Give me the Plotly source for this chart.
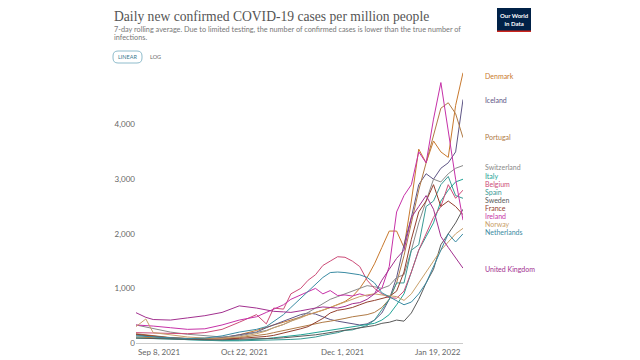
import plotly.graph_objects as go

dates = ["2021-09-08","2021-09-12","2021-09-15","2021-09-22","2021-09-29","2021-10-06",
         "2021-10-13","2021-10-20","2021-10-27","2021-10-31","2021-11-03","2021-11-07",
         "2021-11-10","2021-11-14","2021-11-17","2021-11-20","2021-11-23","2021-11-26",
         "2021-11-29","2021-12-02","2021-12-05","2021-12-08","2021-12-11","2021-12-14",
         "2021-12-17","2021-12-20","2021-12-23","2021-12-26","2021-12-29","2022-01-01",
         "2022-01-04","2022-01-07","2022-01-10","2022-01-13","2022-01-16","2022-01-19"]

denmark = [110,100,95,85,75,70,90,150,230,290,330,380,420,470,520,560,600,650,700,760,850,1000,1200,1450,1750,2050,2050,1750,2600,3550,3300,3700,3500,3400,4350,4950]
iceland = [150,140,120,90,70,80,100,150,200,280,330,400,450,520,550,530,480,430,400,380,350,330,350,420,550,800,1200,1800,2300,2900,3100,3000,3200,3300,3500,4460]
portugal = [170,150,130,100,85,80,85,100,130,160,190,230,260,300,330,360,380,400,420,450,480,500,520,560,650,800,1100,1600,2200,2800,3300,3800,4300,4400,4200,3760]
switzerland = [330,290,260,200,160,130,110,130,190,230,280,340,400,480,560,640,730,800,850,900,950,1000,1050,1030,1000,1050,1200,1250,1700,2200,2600,3000,2950,3100,3200,3250]
italy = [90,85,80,70,60,55,45,50,65,80,95,110,130,150,170,190,210,230,250,270,290,310,330,360,420,520,700,900,1300,1700,1950,2200,2600,2800,2950,3000]
belgium = [190,185,180,175,170,190,250,380,520,350,640,620,900,1000,1150,1250,1420,1500,1580,1570,1500,1400,1150,1000,900,830,820,950,1300,1700,2000,2300,2500,2900,2650,2800]
spain = [150,130,110,80,60,45,40,40,45,45,50,55,65,75,90,110,140,160,190,230,240,280,320,420,600,800,1100,1100,1700,1800,2500,2600,2900,3050,2700,2650]
sweden = [90,85,80,70,65,60,60,65,70,75,85,95,105,120,140,150,170,190,210,230,250,270,290,320,360,380,420,400,550,800,1100,1350,1800,2000,2200,2450]
france = [160,140,120,95,80,75,75,85,100,120,140,180,220,260,300,380,450,550,600,620,650,700,750,780,820,850,950,1300,1900,2400,2600,2900,2500,2600,2500,2350]
ireland = [330,320,310,280,250,260,330,420,480,560,620,700,800,880,950,1000,900,960,870,880,860,900,860,900,1000,1400,2400,2700,2900,3500,3300,4100,4770,3900,3000,2250]
norway = [300,440,190,150,110,90,85,110,170,220,280,340,400,460,520,560,600,650,700,750,800,850,880,900,880,860,850,780,900,1100,1300,1500,1700,1850,2000,2100]
netherlands = [130,120,110,90,80,90,130,200,250,300,400,520,650,820,950,1080,1200,1290,1300,1290,1270,1250,1200,1100,920,850,780,700,750,900,1100,1400,1700,2000,1850,2000]
uk = [555,470,430,420,460,500,560,680,640,610,580,570,560,590,620,640,660,650,640,670,720,740,800,900,1150,1350,1550,1700,2300,2500,2700,2450,1950,1750,1550,1370]

countries = ["Denmark","Iceland","Portugal","Switzerland","Italy","Belgium","Spain",
             "Sweden","France","Ireland","Norway","Netherlands","United Kingdom"]
series = [denmark, iceland, portugal, switzerland, italy, belgium, spain,
          sweden, france, ireland, norway, netherlands, uk]

y_ticks = [0, 1000, 2000, 3000, 4000]
y_tick_text = ["0", "1,000", "2,000", "3,000", "4,000"]
x_ticks = ["2021-09-08", "2021-10-22", "2021-12-01", "2022-01-19"]
x_tick_text = ["Sep 8, 2021", "Oct 22, 2021", "Dec 1, 2021", "Jan 19, 2022"]

# styling
colors = ["#C8792E", "#5E5585", "#B07A45", "#8A8A8A", "#22A396", "#CC4C78", "#3A9A95",
          "#5A5A5A", "#93402F", "#C631A8", "#C9A06A", "#3A8BA3", "#A2308F"]
label_px = [76, 100, 137, 167, 176, 184, 192, 200, 208, 216, 224, 232, 269]

OFF = 8  # page body margin
L, R, T, B = 136 - OFF, 463 - OFF, 70 - OFF, 343 - OFF
W, H = 632, 352
def px(x):
    return (x - OFF - L) / (R - L)
def py(y):
    return (B - (y - OFF)) / (B - T)

fig = go.Figure()
for name, vals, col in zip(countries, series, colors):
    fig.add_trace(go.Scatter(x=dates, y=vals, mode="lines", name=name,
                             line=dict(color=col, width=1.0), showlegend=False))

ann = []
for name, col, ly in zip(countries, colors, label_px):
    ann.append(dict(xref="paper", yref="paper", x=px(483), y=py(ly), text=name,
                    showarrow=False, xanchor="left", yanchor="middle",
                    font=dict(family="Lato", size=7, color=col)))
anchors = ["left", "center", "center", "right"]
for xv, xt, a in zip(x_ticks, x_tick_text, anchors):
    ann.append(dict(xref="x", yref="paper", x=xv, y=py(352), text=xt, showarrow=False,
                    xanchor=a, yanchor="middle",
                    font=dict(family="Lato", size=8, color="#666666")))
ann.append(dict(xref="paper", yref="paper", x=px(112), y=py(16),
                text="Daily new confirmed COVID-19 cases per million people",
                showarrow=False, xanchor="left", yanchor="middle",
                font=dict(family="Liberation Serif", size=13.6, color="#555555")))
ann.append(dict(xref="paper", yref="paper", x=px(112), y=py(29),
                text="7-day rolling average. Due to limited testing, the number of confirmed cases is lower than the true number of",
                showarrow=False, xanchor="left", yanchor="middle",
                font=dict(family="Lato", size=7.3, color="#777777")))
ann.append(dict(xref="paper", yref="paper", x=px(112), y=py(38), text="infections.",
                showarrow=False, xanchor="left", yanchor="middle",
                font=dict(family="Lato", size=7.3, color="#777777")))
ann.append(dict(xref="paper", yref="paper", x=px(127.5), y=py(57), text="LINEAR", showarrow=False,
                xanchor="center", yanchor="middle", font=dict(family="Lato", size=5.5, color="#3d7a8f")))
ann.append(dict(xref="paper", yref="paper", x=px(148), y=py(57), text="LOG", showarrow=False,
                xanchor="left", yanchor="middle", font=dict(family="Lato", size=5.5, color="#666666")))
ann.append(dict(xref="paper", yref="paper", x=px(514), y=py(19), text="<b>Our World<br>in Data</b>",
                showarrow=False, xanchor="center", yanchor="middle",
                font=dict(family="Lato", size=6, color="white")))

def rrect(x0, y0, x1, y1, r):
    X0, X1 = px(x0), px(x1)
    Y0, Y1 = py(y0), py(y1)
    rx = r / (R - L)
    ry = r / (B - T)
    return (f"M {X0+rx},{Y0} L {X1-rx},{Y0} Q {X1},{Y0} {X1},{Y0-ry} L {X1},{Y1+ry} "
            f"Q {X1},{Y1} {X1-rx},{Y1} L {X0+rx},{Y1} Q {X0},{Y1} {X0},{Y1+ry} "
            f"L {X0},{Y0-ry} Q {X0},{Y0} {X0+rx},{Y0} Z")

shapes = [
    dict(type="path", xref="paper", yref="paper", path=rrect(113, 51, 142, 63, 5),
         line=dict(color="#8fbccc", width=1), fillcolor="rgba(0,0,0,0)"),
    dict(type="rect", xref="paper", yref="paper", x0=px(497), x1=px(531), y0=py(8), y1=py(32),
         line=dict(width=0), fillcolor="#002147"),
    dict(type="rect", xref="paper", yref="paper", x0=px(497), x1=px(531), y0=py(30.5), y1=py(32),
         line=dict(width=0), fillcolor="#ce261e"),
]

fig.update_layout(
    width=W, height=H,
    margin=dict(l=L, r=W - R, t=T, b=H - B, pad=0),
    paper_bgcolor="white", plot_bgcolor="white",
    annotations=ann, shapes=shapes,
    xaxis=dict(range=["2021-09-08", "2022-01-19"], showgrid=False, showticklabels=False,
               showline=True, linecolor="#cccccc", linewidth=1, zeroline=False, ticks=""),
    yaxis=dict(range=[0, 5000], tickvals=y_ticks, ticktext=y_tick_text, showgrid=False,
               zeroline=False, showline=False, ticks="",
               tickfont=dict(family="Lato", size=8, color="#666666")),
    font=dict(family="Lato"),
)

fig.write_html("out.html")
